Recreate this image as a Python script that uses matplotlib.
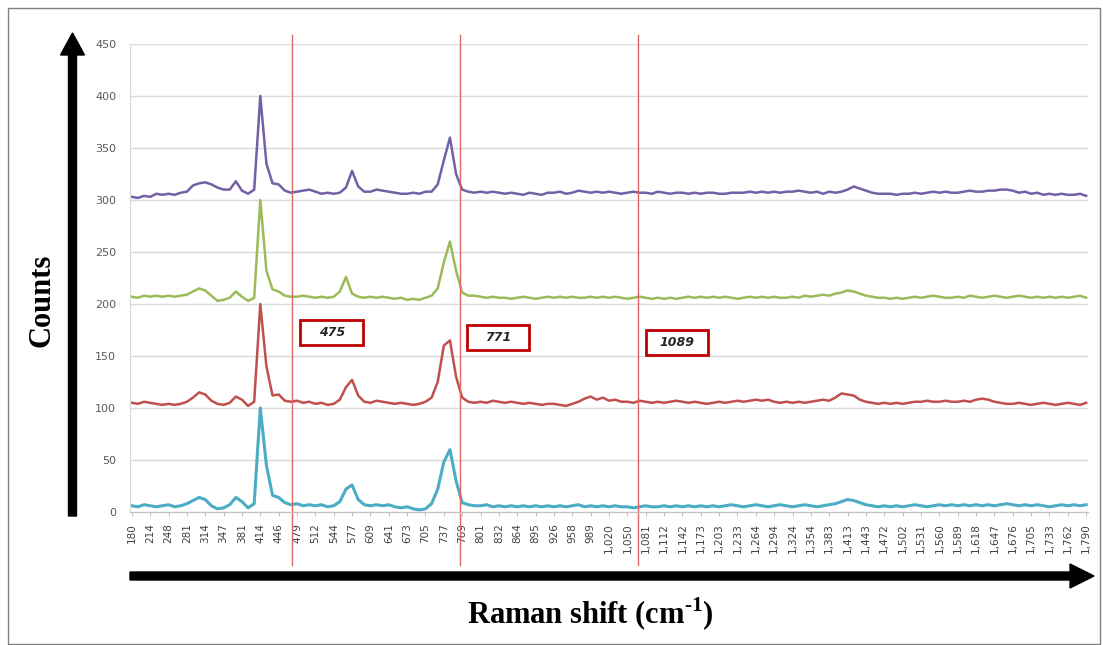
import matplotlib.pyplot as plt
import matplotlib.patches as mpatches
import numpy as np

# category labels of the Raman shift axis (Excel category axis)
tick_labels = ['180', '214', '248', '281', '314', '347', '381', '414', '446', '479',
               '512', '544', '577', '609', '641', '673', '705', '737', '769', '801',
               '832', '864', '895', '926', '958', '989', '1,020', '1,050', '1,081', '1,112',
               '1,142', '1,173', '1,203', '1,233', '1,264', '1,294', '1,324', '1,354', '1,383', '1,413',
               '1,443', '1,472', '1,502', '1,531', '1,560', '1,589', '1,618', '1,647', '1,676', '1,705',
               '1,733', '1,762', '1,790']

# three samples per category label
purple = [303, 302, 304, 303, 306, 305, 306, 305, 307, 308, 314, 316, 317, 315, 312,
          310, 310, 318, 309, 306, 310, 400, 335, 316, 315, 309, 307, 308, 309, 310,
          308, 306, 307, 306, 307, 312, 328, 313, 308, 308, 310, 309, 308, 307, 306,
          306, 307, 306, 308, 308, 315, 338, 360, 325, 310, 308, 307, 308, 307, 308,
          307, 306, 307, 306, 305, 307, 306, 305, 307, 307, 308, 306, 307, 309, 308,
          307, 308, 307, 308, 307, 306, 307, 308, 307, 307, 306, 308, 307, 306, 307,
          307, 306, 307, 306, 307, 307, 306, 306, 307, 307, 307, 308, 307, 308, 307,
          308, 307, 308, 308, 309, 308, 307, 308, 306, 308, 307, 308, 310, 313, 311,
          309, 307, 306, 306, 306, 305, 306, 306, 307, 306, 307, 308, 307, 308, 307,
          307, 308, 309, 308, 308, 309, 309, 310, 310, 309, 307, 308, 306, 307, 305,
          306, 305, 306, 305, 305, 306, 304]

green = [207, 206, 208, 207, 208, 207, 208, 207, 208, 209, 212, 215, 213, 208, 203,
         204, 206, 212, 207, 203, 206, 300, 232, 214, 212, 208, 207, 207, 208, 207,
         206, 207, 206, 207, 212, 226, 210, 207, 206, 207, 206, 207, 206, 205, 206,
         204, 205, 204, 206, 208, 215, 240, 260, 232, 211, 208, 208, 207, 206, 207,
         206, 206, 205, 206, 207, 206, 205, 206, 207, 206, 207, 206, 207, 206, 206,
         207, 206, 207, 206, 207, 206, 205, 206, 207, 206, 205, 206, 205, 206, 205,
         206, 207, 206, 207, 206, 207, 206, 207, 206, 205, 206, 207, 206, 207, 206,
         207, 206, 206, 207, 206, 208, 207, 208, 209, 208, 210, 211, 213, 212, 210,
         208, 207, 206, 206, 205, 206, 205, 206, 207, 206, 207, 208, 207, 206, 206,
         207, 206, 208, 207, 206, 207, 208, 207, 206, 207, 208, 207, 206, 207, 206,
         207, 206, 207, 206, 207, 208, 206]

red = [105, 104, 106, 105, 104, 103, 104, 103, 104, 106, 110, 115, 113, 107, 104,
       103, 105, 111, 108, 102, 106, 200, 140, 112, 113, 107, 106, 107, 105, 106,
       104, 105, 103, 104, 108, 120, 127, 112, 106, 105, 107, 106, 105, 104, 105,
       104, 103, 104, 106, 110, 125, 160, 165, 130, 110, 106, 105, 106, 105, 107,
       106, 105, 106, 105, 104, 105, 104, 103, 104, 104, 103, 102, 104, 106, 109,
       111, 108, 110, 107, 108, 106, 106, 105, 107, 106, 105, 106, 105, 106, 107,
       106, 105, 106, 105, 104, 105, 106, 105, 106, 107, 106, 107, 108, 107, 108,
       106, 105, 106, 105, 106, 105, 106, 107, 108, 107, 110, 114, 113, 112, 108,
       106, 105, 104, 105, 104, 105, 104, 105, 106, 106, 107, 106, 106, 107, 106,
       106, 107, 106, 108, 109, 108, 106, 105, 104, 104, 105, 104, 103, 104, 105,
       104, 103, 104, 105, 104, 103, 105]

cyan = [6, 5, 7, 6, 5, 6, 7, 5, 6, 8, 11, 14, 12, 6, 3,
        4, 7, 14, 10, 4, 8, 100, 45, 16, 14, 9, 7, 8, 6, 7,
        6, 7, 5, 6, 10, 22, 26, 12, 7, 6, 7, 6, 7, 5, 4,
        5, 3, 2, 3, 8, 22, 48, 60, 30, 9, 7, 6, 6, 7, 5,
        6, 5, 6, 5, 6, 5, 6, 5, 6, 5, 6, 5, 6, 7, 5,
        6, 5, 6, 5, 6, 5, 5, 4, 5, 6, 5, 5, 6, 5, 6,
        5, 6, 5, 6, 5, 6, 5, 6, 7, 6, 5, 6, 7, 6, 5,
        6, 7, 6, 5, 6, 7, 6, 5, 6, 7, 8, 10, 12, 11, 9,
        7, 6, 5, 6, 5, 6, 5, 6, 7, 6, 5, 6, 7, 6, 7,
        6, 7, 6, 7, 6, 7, 6, 7, 8, 7, 6, 7, 6, 7, 6,
        5, 6, 7, 6, 7, 6, 7]

series_colors = {'purple': '#7460A6', 'green': '#9BBB59', 'red': '#C0504D', 'cyan': '#4BACC6'}

# marked bands: label and position on the category axis
band_labels = ['475', '771', '1089']
band_pos = [8.74, 17.86, 27.58]
box_centers = [(10.9, 173), (19.95, 168), (29.7, 163)]

samples_per_tick = 3


def main():
    plt.rcParams['mathtext.fontset'] = 'custom'
    plt.rcParams['mathtext.rm'] = 'Liberation Serif:bold'
    plt.rcParams['mathtext.bf'] = 'Liberation Serif:bold'

    fig = plt.figure(figsize=(11.03, 6.45), dpi=100)
    W, H = 1103, 645
    ax = fig.add_axes([130 / W, 1 - 512 / H, (1088 - 130) / W, (512 - 44) / H])

    x = np.arange(len(purple)) / samples_per_tick
    ax.plot(x, cyan, color=series_colors['cyan'], lw=2.2)
    ax.plot(x, red, color=series_colors['red'], lw=1.8)
    ax.plot(x, green, color=series_colors['green'], lw=1.8)
    ax.plot(x, purple, color=series_colors['purple'], lw=1.8)

    ax.set_xlim(-0.1, len(tick_labels) - 1 + 0.1)
    ax.set_ylim(0, 450)
    ax.set_yticks(range(0, 451, 50))
    ax.yaxis.grid(True, color='#d9d9d9', lw=1)
    ax.set_axisbelow(True)
    ax.set_xticks(range(len(tick_labels)))
    ax.set_xticklabels(tick_labels, rotation=90, fontsize=7.5, color='#404040')
    ax.tick_params(axis='y', labelsize=8, colors='#595959', length=0, pad=10)
    ax.tick_params(axis='x', length=3, color='#bfbfbf', pad=5)
    for s in ['top', 'right']:
        ax.spines[s].set_visible(False)
    ax.spines['left'].set_color('#d9d9d9')
    ax.spines['bottom'].set_color('#bfbfbf')

    # red marker lines and boxed labels
    for lab, pos, (bx, by) in zip(band_labels, band_pos, box_centers):
        ax.axvline(pos, ymin=(512 - 565) / 468, ymax=(512 - 35) / 468,
                   color='#E06666', lw=1, clip_on=False)
        bw, bh = 63 / 18.42, 25 / 1.04
        ax.add_patch(mpatches.Rectangle((bx - bw / 2, by - bh / 2), bw, bh,
                                        fill=True, facecolor='white',
                                        edgecolor='#C00000', lw=2, zorder=5))
        ax.text(bx, by, lab, ha='center', va='center', fontsize=9,
                fontweight='bold', style='italic', color='#262626', zorder=6)

    # big axis arrows
    t = fig.dpi_scale_trans
    fig.patches.append(mpatches.FancyArrow(0.725, (H - 516) / 100, 0, (516 - 33) / 100,
                                           width=0.08, head_width=0.24, head_length=0.22,
                                           length_includes_head=True, color='black', transform=t))
    fig.patches.append(mpatches.FancyArrow(1.30, (H - 576) / 100, (1094 - 130) / 100, 0,
                                           width=0.08, head_width=0.24, head_length=0.24,
                                           length_includes_head=True, color='black', transform=t))

    fig.text(42 / W, 1 - 300 / H, 'Counts', rotation=90, ha='center', va='center',
             fontsize=22, fontweight='bold', family='Liberation Serif')
    fig.text(590 / W, 1 - 614 / H, r'Raman shift (cm$^{\text{-1}}$)', ha='center', va='center',
             fontsize=22, fontweight='bold', family='Liberation Serif')

    # outer frame
    fig.patches.append(mpatches.Rectangle((8 / W, 1 / H), (1100 - 8) / W, (645 - 9) / H,
                                          fill=False, edgecolor='#808080', lw=1,
                                          transform=fig.transFigure))

    fig.savefig('out.png', dpi=100)


if __name__ == '__main__':
    main()
